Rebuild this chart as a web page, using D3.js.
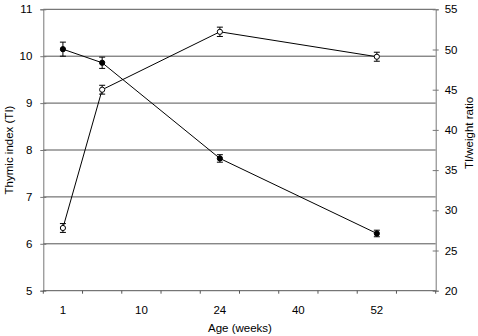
<!DOCTYPE html>
<html>
<head>
<meta charset="utf-8">
<script src="https://cdn.jsdelivr.net/npm/d3@7"></script>
<style>
  body { margin: 0; background: #fff; }
  svg { display: block; font-family: "Liberation Sans", Arial, sans-serif; }
  .axis text { font-size: 11.5px; fill: #000; }
</style>
</head>
<body>
<div class="chart"></div>
<script>
// category axis (Excel style, every other label shown)
const ageLabels = ["1", "", "10", "", "24", "", "40", "", "52", ""];

// thymic index (left axis), filled markers
const tiValues = [10.15, 9.86, null, null, 7.82, null, null, null, 6.22, null];
const tiErrors = [0.15, 0.12, null, null, 0.08, null, null, null, 0.07, null];

// TI/weight ratio (right axis), open markers
const ratioValues = [27.8, 45.0, null, null, 52.2, null, null, null, 49.1, null];
const ratioErrors = [0.55, 0.55, null, null, 0.58, null, null, null, 0.56, null];

const leftTicks = [5, 6, 7, 8, 9, 10, 11];
const rightTicks = [20, 25, 30, 35, 40, 45, 50, 55];

const width = 478, height = 336;
const margin = { top: 9.3, right: 42.3, bottom: 45.3, left: 43.3 };

const svg = d3.select(".chart").append("svg")
    .attr("width", width)
    .attr("height", height);

const x = d3.scaleBand()
    .domain(d3.range(ageLabels.length))
    .range([margin.left, width - margin.right])
    .padding(0);

const yLeft = d3.scaleLinear()
    .domain([5, 11])
    .range([height - margin.bottom, margin.top]);

const yRight = d3.scaleLinear()
    .domain([20, 55])
    .range([height - margin.bottom, margin.top]);

// gridlines on left ticks
svg.append("g")
    .selectAll("line")
    .data(leftTicks.slice(1))
    .join("line")
    .attr("x1", margin.left)
    .attr("x2", width - margin.right)
    .attr("y1", d => yLeft(d))
    .attr("y2", d => yLeft(d))
    .attr("stroke", "#555")
    .attr("stroke-width", 1);

// left axis
svg.append("g")
    .attr("class", "axis")
    .attr("transform", `translate(${margin.left},0)`)
    .call(d3.axisLeft(yLeft).tickValues(leftTicks).tickFormat(d3.format("d")).tickSize(3).tickPadding(8))
    .call(g => g.select(".domain").attr("stroke", "#777"))
    .call(g => g.selectAll(".tick line").attr("x2", -3).attr("x1", 3).attr("stroke", "#777"));

// right axis
svg.append("g")
    .attr("class", "axis")
    .attr("transform", `translate(${width - margin.right},0)`)
    .call(d3.axisRight(yRight).tickValues(rightTicks).tickFormat(d3.format("d")).tickSize(3).tickPadding(6))
    .call(g => g.select(".domain").attr("stroke", "#777"))
    .call(g => g.selectAll(".tick line").attr("x1", -3).attr("x2", 3).attr("stroke", "#777"));

// bottom axis: ticks on category boundaries, labels centred
const xAxis = svg.append("g")
    .attr("class", "axis")
    .attr("transform", `translate(0,${height - margin.bottom})`);

xAxis.append("line")
    .attr("x1", margin.left)
    .attr("x2", width - margin.right)
    .attr("stroke", "#555");

xAxis.selectAll(".tk")
    .data(d3.range(ageLabels.length + 1))
    .join("line")
    .attr("class", "tk")
    .attr("x1", i => i < ageLabels.length ? x(i) : x(i - 1) + x.bandwidth())
    .attr("x2", i => i < ageLabels.length ? x(i) : x(i - 1) + x.bandwidth())
    .attr("y1", 0)
    .attr("y2", 3)
    .attr("stroke", "#555");

xAxis.selectAll("text")
    .data(ageLabels)
    .join("text")
    .attr("x", (d, i) => x(i) + x.bandwidth() / 2)
    .attr("y", 23)
    .attr("text-anchor", "middle")
    .text(d => d);

// axis titles
svg.append("text")
    .attr("transform", `translate(13,150) rotate(-90)`)
    .attr("text-anchor", "middle")
    .style("font-size", "11.5px")
    .text("Thymic index (TI)");

svg.append("text")
    .attr("transform", `translate(473,133) rotate(-90)`)
    .attr("text-anchor", "middle")
    .style("font-size", "11.5px")
    .text("TI/weight ratio");

svg.append("text")
    .attr("x", 240)
    .attr("y", 332)
    .attr("text-anchor", "middle")
    .style("font-size", "11.5px")
    .text("Age (weeks)");

// series drawing
function drawSeries(values, errors, yScale, filled) {
    const pts = values
        .map((v, i) => ({ i: i, v: v, e: errors[i] }))
        .filter(d => d.v !== null);

    const line = d3.line()
        .x(d => x(d.i) + x.bandwidth() / 2)
        .y(d => yScale(d.v));

    const g = svg.append("g");

    g.append("path")
        .attr("d", line(pts))
        .attr("fill", "none")
        .attr("stroke", "#000")
        .attr("stroke-width", 1);

    const cap = 3;
    g.selectAll(".err")
        .data(pts)
        .join("path")
        .attr("class", "err")
        .attr("d", d => {
            const cx = x(d.i) + x.bandwidth() / 2;
            const y0 = yScale(d.v - d.e), y1 = yScale(d.v + d.e);
            return `M${cx},${y0}V${y1}M${cx - cap},${y0}h${cap * 2}M${cx - cap},${y1}h${cap * 2}`;
        })
        .attr("fill", "none")
        .attr("stroke", "#000")
        .attr("stroke-width", 1);

    g.selectAll("circle")
        .data(pts)
        .join("circle")
        .attr("cx", d => x(d.i) + x.bandwidth() / 2)
        .attr("cy", d => yScale(d.v))
        .attr("r", 2.6)
        .attr("fill", filled ? "#000" : "#fff")
        .attr("stroke", "#000")
        .attr("stroke-width", 1);
}

drawSeries(tiValues, tiErrors, yLeft, true);
drawSeries(ratioValues, ratioErrors, yRight, false);
</script>
</body>
</html>
